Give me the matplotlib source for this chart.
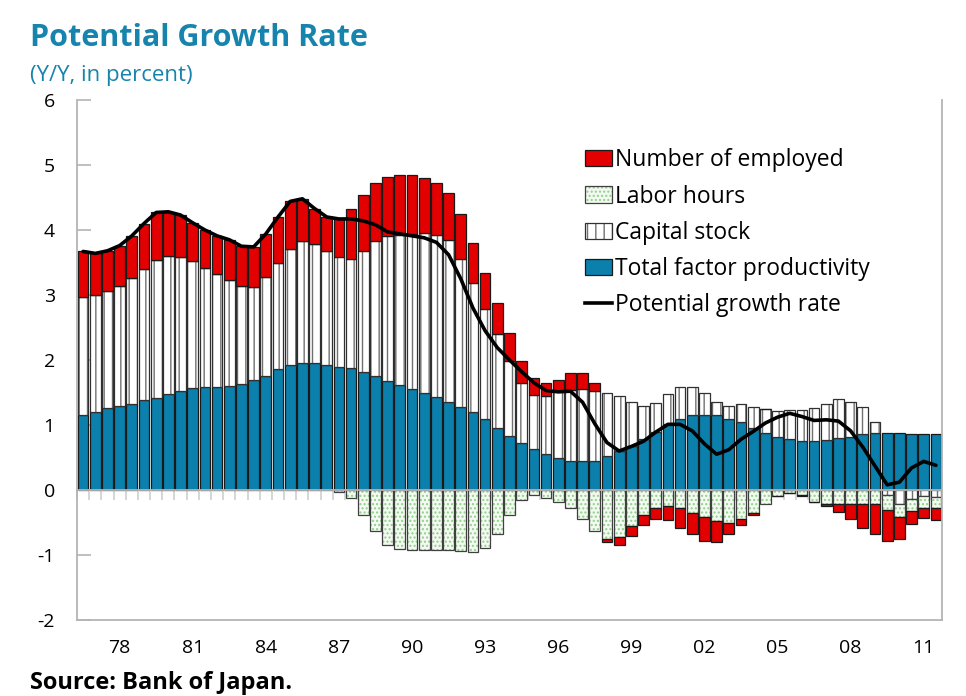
import matplotlib
matplotlib.use('Agg')
import matplotlib.pyplot as plt
from matplotlib.patches import Patch
from matplotlib.lines import Line2D
import numpy as np

plt.rcParams['font.family'] = ['Open Sans', 'DejaVu Sans']
plt.rcParams['hatch.linewidth'] = 1.0
plt.rcParams['axes.unicode_minus'] = False

# semiannual contributions, percentage points (1976 H2 .. 2011 H2)
year_labels = ['78', '81', '84', '87', '90', '93', '96', '99', '02', '05', '08', '11']
label_pos = [3, 9, 15, 21, 27, 33, 39, 45, 51, 57, 63, 69]

tfp = [1.15, 1.20, 1.26, 1.30, 1.33, 1.38, 1.41, 1.47, 1.53, 1.57, 1.58, 1.58,
       1.60, 1.63, 1.70, 1.76, 1.86, 1.92, 1.95, 1.95, 1.92, 1.90, 1.87, 1.81,
       1.76, 1.68, 1.62, 1.56, 1.50, 1.43, 1.36, 1.28, 1.20, 1.09, 0.96, 0.83,
       0.72, 0.63, 0.55, 0.49, 0.45, 0.44, 0.45, 0.52, 0.60, 0.68, 0.78, 0.90,
       1.02, 1.09, 1.15, 1.16, 1.15, 1.10, 1.04, 0.96, 0.88, 0.82, 0.78, 0.75,
       0.75, 0.77, 0.80, 0.82, 0.86, 0.88, 0.88, 0.88, 0.86, 0.86, 0.86]
capital = [1.82, 1.80, 1.80, 1.84, 1.93, 2.02, 2.13, 2.13, 2.05, 1.95, 1.83, 1.74,
           1.63, 1.51, 1.42, 1.51, 1.64, 1.79, 1.88, 1.84, 1.75, 1.68, 1.69, 1.87,
           2.07, 2.22, 2.30, 2.38, 2.45, 2.50, 2.48, 2.28, 1.98, 1.69, 1.44, 1.15,
           0.92, 0.83, 0.90, 1.04, 1.09, 1.11, 1.07, 0.97, 0.85, 0.68, 0.51, 0.44,
           0.45, 0.50, 0.44, 0.33, 0.20, 0.20, 0.28, 0.32, 0.37, 0.40, 0.45, 0.48,
           0.51, 0.56, 0.60, 0.54, 0.41, 0.17, -0.07, -0.21, -0.14, -0.09, -0.11]
hours = [0.0, 0.0, 0.0, 0.0, 0.0, 0.0, 0.0, 0.0, 0.0, 0.0, 0.0, 0.0,
         0.0, 0.0, 0.0, 0.0, 0.0, 0.0, 0.0, 0.0, 0.0, -0.03, -0.13, -0.38,
         -0.63, -0.84, -0.91, -0.92, -0.92, -0.92, -0.93, -0.94, -0.96, -0.89, -0.68, -0.39,
         -0.15, -0.08, -0.12, -0.18, -0.28, -0.45, -0.63, -0.76, -0.72, -0.56, -0.38, -0.27,
         -0.24, -0.27, -0.35, -0.41, -0.47, -0.50, -0.45, -0.35, -0.22, -0.09, -0.04, -0.08,
         -0.18, -0.21, -0.22, -0.21, -0.21, -0.22, -0.24, -0.21, -0.18, -0.18, -0.16]
employed = [0.70, 0.64, 0.62, 0.62, 0.65, 0.70, 0.73, 0.68, 0.65, 0.59, 0.59, 0.59,
            0.62, 0.61, 0.62, 0.67, 0.70, 0.73, 0.65, 0.54, 0.53, 0.59, 0.76, 0.86,
            0.89, 0.92, 0.93, 0.90, 0.85, 0.80, 0.73, 0.68, 0.62, 0.56, 0.48, 0.44,
            0.34, 0.27, 0.20, 0.16, 0.26, 0.25, 0.12, -0.04, -0.13, -0.14, -0.16, -0.18,
            -0.22, -0.31, -0.33, -0.37, -0.33, -0.18, -0.09, -0.03, 0.0, -0.01, -0.01, -0.01,
            -0.01, -0.04, -0.12, -0.24, -0.38, -0.46, -0.48, -0.34, -0.20, -0.16, -0.19]
potential = [3.67, 3.64, 3.68, 3.76, 3.91, 4.10, 4.27, 4.28, 4.23, 4.11, 4.00, 3.91,
             3.85, 3.75, 3.74, 3.94, 4.20, 4.44, 4.48, 4.33, 4.20, 4.17, 4.17, 4.14,
             4.08, 3.97, 3.94, 3.91, 3.88, 3.81, 3.62, 3.25, 2.80, 2.45, 2.19, 2.00,
             1.82, 1.65, 1.53, 1.51, 1.52, 1.35, 1.02, 0.73, 0.60, 0.67, 0.75, 0.89,
             1.01, 1.01, 0.91, 0.71, 0.55, 0.62, 0.78, 0.90, 1.03, 1.12, 1.18, 1.13,
             1.07, 1.08, 1.06, 0.91, 0.66, 0.37, 0.08, 0.12, 0.34, 0.44, 0.38]

TEAL = '#1684ad'
BLUE = '#0b80ad'
RED = '#e30000'
GRAY = '#b4b4b4'

fig = plt.figure(figsize=(9.66, 6.96), dpi=100)
ax = fig.add_axes([77/966, 1-620/696, 865/966, 520/696])

n = len(tfp)
x = np.arange(n)
w = 0.88

# (values, facecolor, hatch, hatch colour, outline colour)
layers = [
    (tfp, BLUE, None, BLUE, '#1a1a1a'),
    (capital, 'white', '||', '#707070', '#303030'),
    (hours, '#f3faf1', '....', '#92cf8c', '#404040'),
    (employed, RED, None, RED, '#1a1a1a'),
]
pos = np.zeros(n)
neg = np.zeros(n)
for vals, fc, hatch, hc, ec in layers:
    v = np.array(vals)
    bottom = np.where(v >= 0, pos, neg)
    ax.bar(x, v, w, bottom=bottom, color=fc, hatch=hatch, edgecolor=hc,
           linewidth=0, zorder=2)
    ax.bar(x, v, w, bottom=bottom, fill=False, edgecolor=ec, linewidth=0.9, zorder=2)
    pos += np.clip(v, 0, None)
    neg += np.clip(v, None, 0)

ax.plot(x, potential, color='black', lw=2.6, zorder=4, solid_capstyle='round')

ax.set_xlim(-0.5, n - 0.5)
ax.set_ylim(-2, 6)
ax.set_yticks(range(-2, 7))
ax.tick_params(axis='y', direction='in', length=10, color=GRAY, width=1.2,
               labelsize=14, pad=16)

# zero line with category ticks
ax.spines['bottom'].set_position(('data', 0))
ax.spines['bottom'].set_zorder(3)
ax.spines['top'].set_visible(False)
ax.set_xticks(np.arange(n + 1) - 0.5)
ax.set_xticklabels([])
ax.tick_params(axis='x', direction='out', length=7, color='#d0d0d0', width=1.2)
for s in ax.spines.values():
    s.set_color(GRAY)
    s.set_linewidth(1.3)

sec = ax.secondary_xaxis('bottom')
sec.set_xticks(label_pos, year_labels)
sec.tick_params(length=0, labelsize=14, pad=14)
sec.spines['bottom'].set_color(GRAY)
sec.spines['bottom'].set_linewidth(1.3)

handles = [
    Patch(facecolor=RED, edgecolor='#1a1a1a', linewidth=0.9),
    (Patch(facecolor='#f3faf1', edgecolor='#92cf8c', hatch='....', linewidth=0),
     Patch(fill=False, edgecolor='#404040', linewidth=0.9)),
    (Patch(facecolor='white', edgecolor='#707070', hatch='||', linewidth=0),
     Patch(fill=False, edgecolor='#303030', linewidth=0.9)),
    Patch(facecolor=BLUE, edgecolor='#1a1a1a', linewidth=0.9),
    Line2D([], [], color='black', lw=2.6),
]
labels = ['Number of employed', 'Labor hours', 'Capital stock',
          'Total factor productivity', 'Potential growth rate']
ax.legend(handles, labels, loc='upper left', bbox_to_anchor=(0.587, 0.907),
          frameon=False, fontsize=16.5, handlelength=1.18, handleheight=0.7,
          handletextpad=0.15, labelspacing=0.53, borderpad=0, borderaxespad=0)

fig.text(30/966, 1-38/696, 'Potential Growth Rate', color=TEAL, fontsize=22,
         fontweight='bold', va='center', ha='left')
fig.text(30/966, 1-75/696, '(Y/Y, in percent)', color=TEAL, fontsize=16,
         va='center', ha='left')
fig.text(30/966, 1-683/696, 'Source: Bank of Japan.', color='black', fontsize=17,
         fontweight='bold', va='center', ha='left')

fig.savefig('out.png', dpi=100)
